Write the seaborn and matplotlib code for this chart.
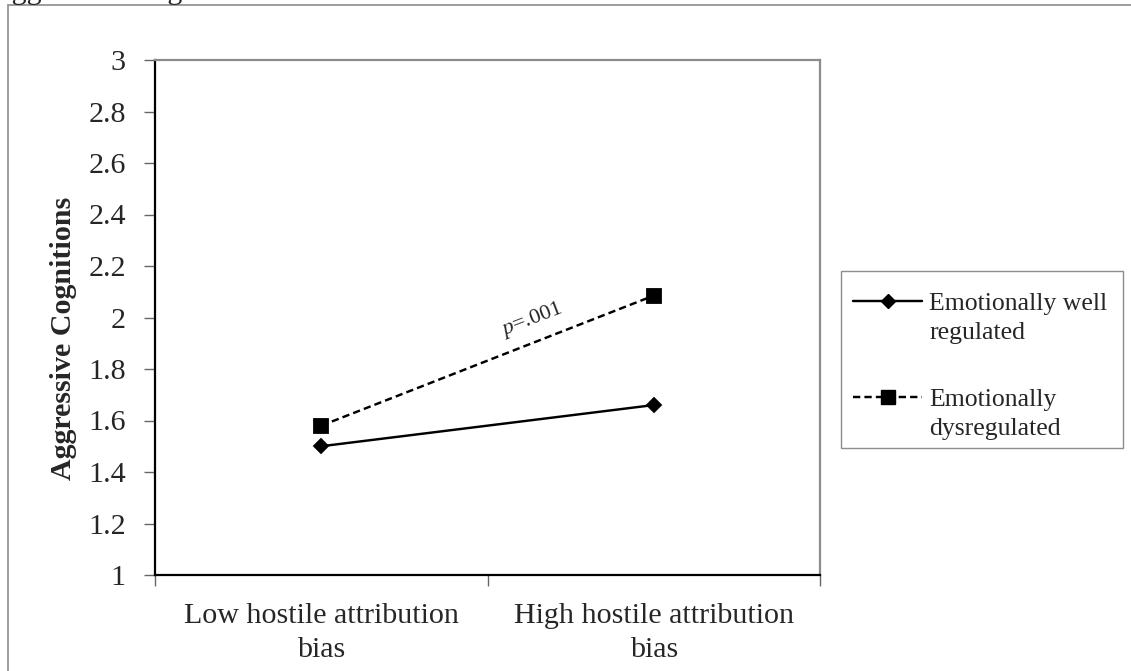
import matplotlib
matplotlib.use("Agg")
import matplotlib.pyplot as plt
import matplotlib.patches as mpatches
from matplotlib.lines import Line2D
from matplotlib.legend_handler import HandlerLine2D
import seaborn as sns
import pandas as pd

categories = ["Low hostile attribution\nbias", "High hostile attribution\nbias"]
groups = ["Emotionally well\nregulated", "Emotionally\ndysregulated"]
well_regulated = [1.50, 1.66]
dysregulated = [1.58, 2.085]
y_ticks = [1, 1.2, 1.4, 1.6, 1.8, 2, 2.2, 2.4, 2.6, 2.8, 3]
y_tick_labels = ["1", "1.2", "1.4", "1.6", "1.8", "2", "2.2", "2.4", "2.6", "2.8", "3"]

df = pd.DataFrame({
    "bias": categories * 2,
    "value": well_regulated + dysregulated,
    "group": [groups[0]] * 2 + [groups[1]] * 2,
})

sns.set_theme(style="white")
plt.rcParams["font.family"] = ["Liberation Serif", "DejaVu Serif"]
plt.rcParams["mathtext.fontset"] = "custom"
plt.rcParams["mathtext.rm"] = "Liberation Serif"
plt.rcParams["mathtext.it"] = "Liberation Serif:italic"

W, H = 1131, 671
fig = plt.figure(figsize=(W / 100, H / 100), dpi=100)
ax = fig.add_axes([155 / W, 1 - 575 / H, (820 - 155) / W, (575 - 60) / H])

dash = (0, (3.0, 1.7))
LW = 1.75
styles = [("D", "-", 7.2), ("s", dash, 10.5)]
for g, (mk, ls, ms) in zip(groups, styles):
    sub = df[df["group"] == g]
    sns.pointplot(data=sub, x="bias", y="value", order=categories, color="black",
                  marker=mk, linestyle=ls, markersize=ms, linewidth=LW,
                  errorbar=None, ax=ax, label=g)

ax.set_xlim(-0.5, 1.5)
ax.set_ylim(1, 3)
ax.set_yticks(y_ticks)
ax.set_yticklabels(y_tick_labels, fontsize=21.6)
ax.set_xticks([0, 1])
ax.set_xticklabels(categories, fontsize=21.6, linespacing=1.42)
ax.set_xticks([-0.5, 0.5, 1.5], minor=True)
ax.tick_params(axis="x", which="major", length=0, pad=20)
ax.tick_params(axis="x", which="minor", direction="out", length=8, width=1, color="#666666", bottom=True)
ax.tick_params(axis="y", direction="out", length=8, width=1, color="#666666", left=True, pad=13)
ax.set_xlabel("")
ax.set_ylabel("Aggressive Cognitions", fontsize=21.6, fontweight="bold")
ax.yaxis.set_label_coords((77 - 155) / (820 - 155), 0.46)

for side in ["left", "bottom"]:
    ax.spines[side].set_color("black")
    ax.spines[side].set_linewidth(1.6)
for side in ["top", "right"]:
    ax.spines[side].set_color("#8c8c8c")
    ax.spines[side].set_linewidth(1.6)

ax.text(0.634, 1.99, r"$p$=.001", fontsize=16, rotation=21, ha="center", va="center")


class RaisedHandler(HandlerLine2D):
    def __init__(self, raise_pts, **kw):
        super().__init__(**kw)
        self.raise_pts = raise_pts

    def create_artists(self, legend, orig_handle, xdescent, ydescent, width, height, fontsize, trans):
        return super().create_artists(legend, orig_handle, xdescent, ydescent - 2 * self.raise_pts,
                                      width, height, fontsize, trans)


h1 = Line2D([], [], color="black", lw=LW, ls="-", marker="D", markersize=7.2)
h2 = Line2D([], [], color="black", lw=LW, ls=dash, marker="s", markersize=10.5)
leg = ax.legend(handles=[h1, h2], labels=groups, loc="upper left",
                bbox_to_anchor=(853 / W, 1 - 293 / H), bbox_transform=fig.transFigure,
                borderaxespad=0, fontsize=18.5, frameon=False,
                handlelength=2.7, numpoints=1,
                labelspacing=1.75, borderpad=0.0, handletextpad=0.27,
                handler_map={h1: RaisedHandler(12), h2: RaisedHandler(12)})
for t in leg.get_texts():
    t.set_linespacing(1.4)

# legend frame
fig.patches.append(mpatches.Rectangle((841 / W, 1 - 448 / H), (1123 - 841) / W, (448 - 271) / H,
                                      transform=fig.transFigure, fill=False,
                                      edgecolor="#8c8c8c", linewidth=1.0))
# outer border
fig.patches.append(mpatches.Rectangle((8 / W, -0.05), 1.2, 1 - 5 / H + 0.05,
                                      transform=fig.transFigure, fill=False,
                                      edgecolor="#8c8c8c", linewidth=1.2))
fig.text(-10 / W, 1 + 1 / H, "Aggressive Cognitions", fontsize=21.6, va="baseline", ha="left")

fig.savefig("out.png", dpi=100)
